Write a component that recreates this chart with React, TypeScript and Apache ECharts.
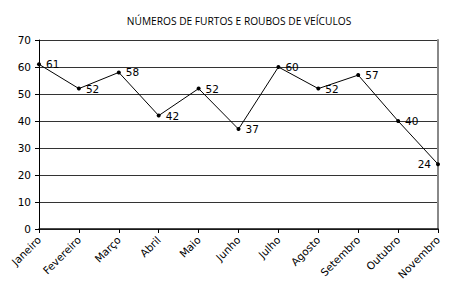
import React, { useEffect, useRef } from "react";
import * as echarts from "echarts";

const title = "NÚMEROS DE FURTOS E ROUBOS DE VEÍCULOS";
const months = ["Janeiro", "Fevereiro", "Março", "Abril", "Maio", "Junho", "Julho", "Agosto", "Setembro", "Outubro", "Novembro"];
const values = [61, 52, 58, 42, 52, 37, 60, 52, 57, 40, 24];
const yTicks = [0, 10, 20, 30, 40, 50, 60, 70];

export default function App() {
  const ref = useRef<HTMLDivElement>(null);
  useEffect(() => {
    const chart = echarts.init(ref.current!, null, { renderer: "svg" });
    const font = "'DejaVu Sans', Verdana, sans-serif";
    chart.setOption({
      animation: false,
      backgroundColor: "#ffffff",
      title: {
        text: title,
        left: 234,
        textAlign: "center",
        top: 11,
        textStyle: { fontSize: 10.2, fontWeight: "normal", color: "#000", fontFamily: "'Open Sans', 'DejaVu Sans', sans-serif" },
      },
      grid: {
        left: 39, right: 12, top: 40, bottom: 71,
        outerBoundsMode: "none",
        containLabel: false,
      },
      xAxis: {
        type: "category",
        data: months,
        boundaryGap: false,
        axisLine: { lineStyle: { color: "#111", width: 1.5 } },
        axisTick: { show: true, alignWithLabel: true, length: 4, lineStyle: { color: "#000" } },
        axisLabel: { rotate: 45, fontSize: 10.5, color: "#000", fontFamily: font, margin: 9, interval: 0 },
      },
      yAxis: [
        {
          type: "value",
          min: yTicks[0],
          max: yTicks[yTicks.length - 1],
          interval: 10,
          axisLine: { show: true, lineStyle: { color: "#000", width: 1 } },
          axisTick: { show: true, length: 4, lineStyle: { color: "#000" } },
          axisLabel: { fontSize: 10.5, color: "#000", fontFamily: font, margin: 8 },
          splitLine: { show: true, lineStyle: { color: "#333", width: 1 } },
        },
        {
          type: "value",
          position: "right",
          min: yTicks[0],
          max: yTicks[yTicks.length - 1],
          interval: 10,
          axisLine: { show: true, lineStyle: { color: "#888", width: 2 } },
          axisTick: { show: false },
          axisLabel: { show: false },
          splitLine: { show: false },
        },
      ],
      series: [
        {
          type: "line",
          data: values.map((v, i) => ({
            value: v,
            label: i === values.length - 1 ? { position: "left", distance: 5 } : undefined,
          })),
          symbol: "circle",
          symbolSize: 4,
          itemStyle: { color: "#000" },
          lineStyle: { color: "#000", width: 1 },
          label: { show: true, position: "right", fontSize: 10.5, color: "#000", fontFamily: font, distance: 5 },
        },
      ],
    });
    return () => chart.dispose();
  }, []);
  return <div ref={ref} style={{ width: 450, height: 300, position: "absolute", left: 0, top: 0 }} />;
}
